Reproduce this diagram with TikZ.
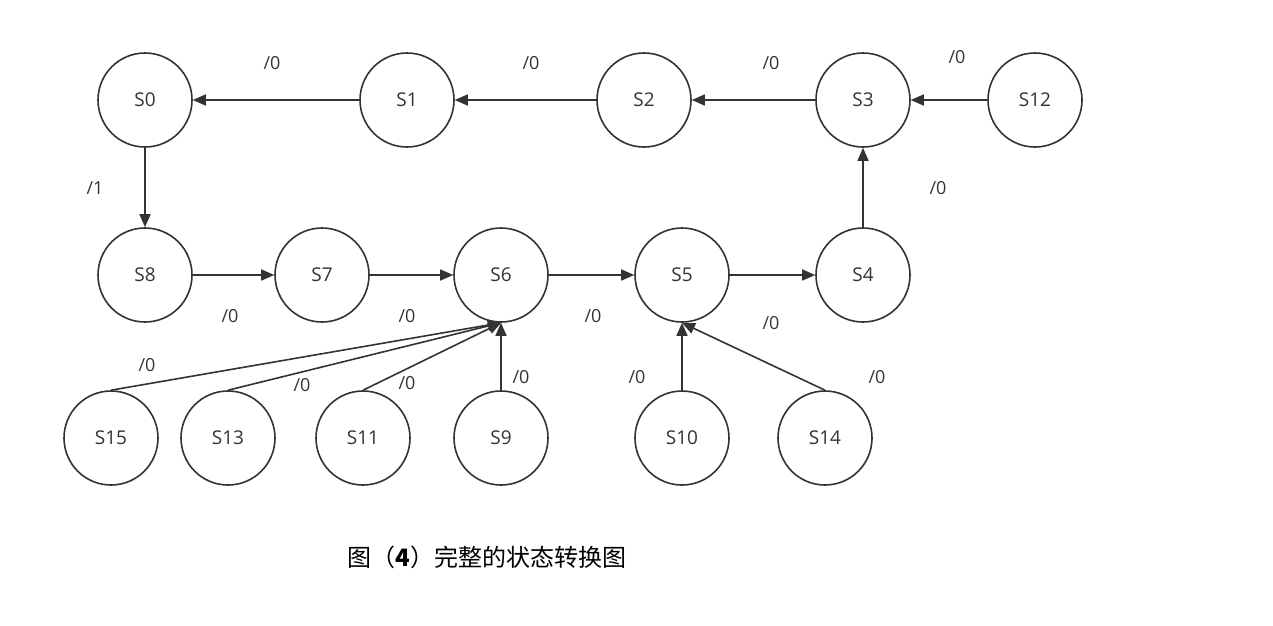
\documentclass[tikz,border=0pt]{standalone}
\usepackage{fontspec}
\setmainfont{Open Sans}
\newfontfamily\cjk{Noto Sans CJK SC}
\usetikzlibrary{arrows.meta}
\definecolor{ink}{HTML}{333333}
\tikzset{
  state/.style={circle, draw=ink, line width=1.6pt, minimum size=94pt, inner sep=0pt, font=\fontsize{19}{21}\selectfont, text=ink},
  edge/.style={draw=ink, line width=1.6pt, -{Triangle[length=13pt,width=11pt]}},
  lbl/.style={font=\fontsize{18}{20}\selectfont, text=ink}
}
\begin{document}
\begin{tikzpicture}[x=1pt,y=-1pt]
\useasboundingbox (0,0) rectangle (1273,625);
% nodes
\node[state] (S0) at (145,100) {S0};
\node[state] (S1) at (407,100) {S1};
\node[state] (S2) at (644,100) {S2};
\node[state] (S3) at (863,100) {S3};
\node[state] (S12) at (1035,100) {S12};
\node[state] (S8) at (145,275) {S8};
\node[state] (S7) at (322,275) {S7};
\node[state] (S6) at (501,275) {S6};
\node[state] (S5) at (682,275) {S5};
\node[state] (S4) at (863,275) {S4};
\node[state] (S15) at (111,438) {S15};
\node[state] (S13) at (228,438) {S13};
\node[state] (S11) at (363,438) {S11};
\node[state] (S9) at (501,438) {S9};
\node[state] (S10) at (682,438) {S10};
\node[state] (S14) at (825,438) {S14};
% edges
\draw[edge] (S1) -- (S0);
\draw[edge] (S2) -- (S1);
\draw[edge] (S3) -- (S2);
\draw[edge] (S12) -- (S3);
\draw[edge] (S0) -- (S8);
\draw[edge] (S8) -- (S7);
\draw[edge] (S7) -- (S6);
\draw[edge] (S6) -- (S5);
\draw[edge] (S5) -- (S4);
\draw[edge] (S4) -- (S3);
\draw[edge] (S15.north) -- (S6.south);
\draw[edge] (S13.north) -- (S6.south);
\draw[edge] (S11.north) -- (S6.south);
\draw[edge] (S9) -- (S6);
\draw[edge] (S10) -- (S5);
\draw[edge] (S14.north) -- (S5.south);
% labels
\node[lbl] (l1) at (272,63) {/0};
\node[lbl] (l2) at (531,63) {/0};
\node[lbl] (l3) at (771,63) {/0};
\node[lbl] (l4) at (957,57) {/0};
\node[lbl] (l5) at (95,188) {/1};
\node[lbl] (l6) at (938,188) {/0};
\node[lbl] (l7) at (230,316) {/0};
\node[lbl] (l8) at (407,316) {/0};
\node[lbl] (l9) at (593,316) {/0};
\node[lbl] (l10) at (771,323) {/0};
\node[lbl] (l11) at (147,365) {/0};
\node[lbl] (l12) at (302,385) {/0};
\node[lbl] (l13) at (407,383) {/0};
\node[lbl] (l14) at (521,377) {/0};
\node[lbl] (l15) at (637,377) {/0};
\node[lbl] (l16) at (877,377) {/0};
% caption
\node[font=\cjk\fontsize{24}{26}\selectfont, text=black] (cap) at (487,557) {图（\textbf{4}）完整的状态转换图};
\end{tikzpicture}
\end{document}
